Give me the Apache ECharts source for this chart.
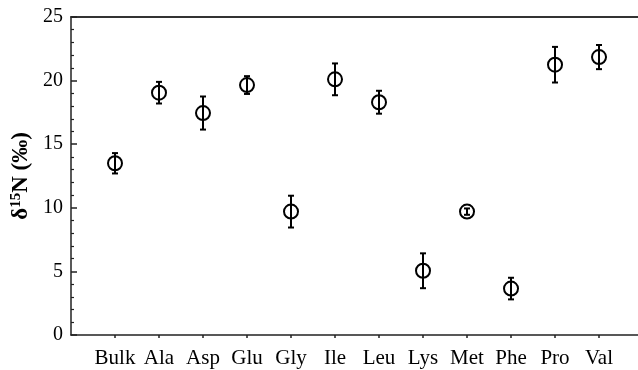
<!DOCTYPE html>
<html>
<head>
<meta charset="utf-8">
<script src="https://cdn.jsdelivr.net/npm/echarts@6/dist/echarts.min.js"></script>
<style>html,body{margin:0;padding:0;background:#fff;}#c{width:638px;height:370px;}</style>
</head>
<body>
<div id="c"></div>
<script>
const categories = ['Bulk','Ala','Asp','Glu','Gly','Ile','Leu','Lys','Met','Phe','Pro','Val'];
const means = [13.5, 19.05, 17.45, 19.65, 9.7, 20.1, 18.3, 5.05, 9.7, 3.65, 21.25, 21.85];
const errors = [0.8, 0.85, 1.3, 0.7, 1.25, 1.25, 0.9, 1.37, 0.25, 0.85, 1.4, 0.95];
const yTicks = [0, 5, 10, 15, 20, 25];

const pts = categories.map((c, i) => [i + 1, means[i], errors[i]]);
const FONT = '"Liberation Serif","Times New Roman",serif';

const chart = echarts.init(document.getElementById('c'));
chart.setOption({
  animation: false,
  grid: {left: 71, top: 17, right: 0, bottom: 35},
  xAxis: [{
    type: 'value', min: 0, max: 12.886, interval: 1,
    axisLine: {lineStyle: {color: '#222', width: 1.5}},
    axisTick: {show: true, inside: false, length: 3, lineStyle: {color: '#222', width: 1.5}},
    splitLine: {show: false},
    axisLabel: {
      showMaxLabel: false, showMinLabel: false,
      color: '#000', fontFamily: FONT, fontSize: 21, margin: 13,
      formatter: v => (v >= 1 && v <= categories.length && Number.isInteger(v)) ? categories[v - 1] : ''
    }
  }, {
    type: 'value', position: 'top', min: 0, max: 12.886,
    axisLine: {show: true, onZero: false, lineStyle: {color: '#333', width: 2}},
    axisTick: {show: false}, axisLabel: {show: false}, splitLine: {show: false}
  }],
  yAxis: {
    type: 'value', min: yTicks[0], max: yTicks[yTicks.length - 1], interval: 5,
    name: '{a|δ}{s|15}{a|N (‰)}',
    nameLocation: 'middle', nameGap: 38, nameRotate: 90,
    nameTextStyle: {
      rich: {
        a: {fontFamily: FONT, fontSize: 23, fontWeight: 'bold', color: '#000'},
        s: {fontFamily: FONT, fontSize: 15, fontWeight: 'bold', color: '#000', verticalAlign: 'top', padding: [0,0,7,0]}
      }
    },
    axisLine: {show: true, lineStyle: {color: '#222', width: 1.5}},
    axisTick: {show: true, inside: true, length: 6, lineStyle: {color: '#222', width: 1.5}},
    minorTick: {show: true, splitNumber: 5, length: 3, lineStyle: {color: '#222', width: 1.2}},
    splitLine: {show: false},
    axisLabel: {color: '#000', fontFamily: FONT, fontSize: 20, margin: 8}
  },
  series: [{
    type: 'custom',
    data: pts,
    renderItem: function (params, api) {
      const x = api.value(0), m = api.value(1), e = api.value(2);
      const top = api.coord([x, m + e]);
      const bot = api.coord([x, m - e]);
      const w = 3;
      const style = {stroke: '#000', lineWidth: 2};
      return {type: 'group', children: [
        {type: 'line', shape: {x1: top[0], y1: top[1], x2: bot[0], y2: bot[1]}, style},
        {type: 'line', shape: {x1: top[0] - w, y1: top[1], x2: top[0] + w, y2: top[1]}, style},
        {type: 'line', shape: {x1: bot[0] - w, y1: bot[1], x2: bot[0] + w, y2: bot[1]}, style}
      ]};
    },
    z: 2
  }, {
    type: 'scatter',
    data: pts.map(p => [p[0], p[1]]),
    symbol: 'circle', symbolSize: 14,
    itemStyle: {color: 'rgba(0,0,0,0)', borderColor: '#000', borderWidth: 2, opacity: 1},
    z: 3
  }]
});
</script>
</body>
</html>
